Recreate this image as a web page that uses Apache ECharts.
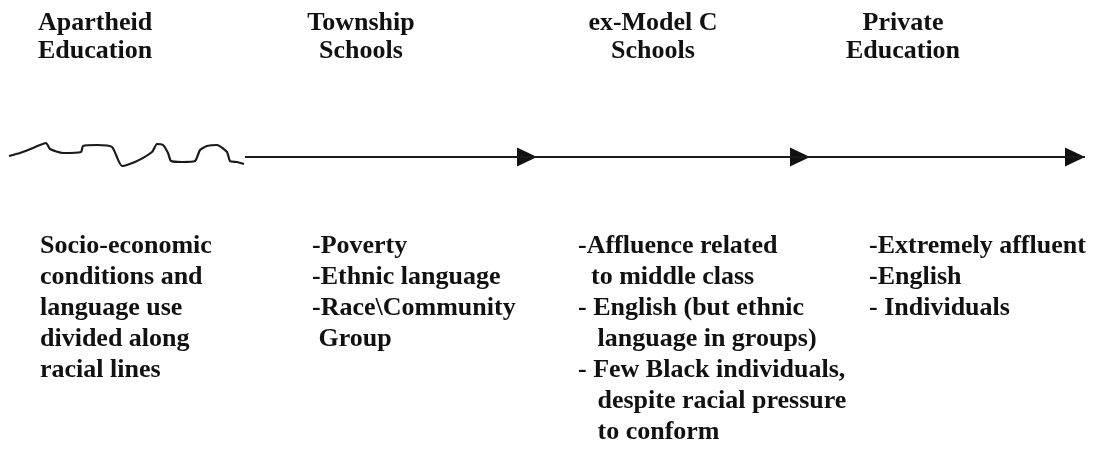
<!DOCTYPE html>
<html>
<head>
<meta charset="utf-8">
<script src="https://cdn.jsdelivr.net/npm/echarts@6/dist/echarts.min.js"></script>
<style>
  html, body { margin: 0; padding: 0; background: #fff; }
  #main { width: 1099px; height: 450px; }
</style>
</head>
<body>
<div id="main"></div>
<script>
// stages along the timeline
var stageTitles = [
  'Apartheid\nEducation',
  'Township\nSchools',
  'ex-Model C\nSchools',
  'Private\nEducation'
];
var stageNotes = [
  ['Socio-economic', 'conditions and', 'language use', 'divided along', 'racial lines'],
  ['-Poverty', '-Ethnic language', '-Race\\Community', ' Group'],
  ['-Affluence related', '  to middle class', '- English (but ethnic', '   language in groups)',
   '- Few Black individuals,', '   despite racial pressure', '   to conform'],
  ['-Extremely affluent', '-English', '- Individuals']
];
// where each title / note block sits on the page (x in page units)
var titleX = [38, 361, 653, 903];
var titleAlign = ['left', 'center', 'center', 'center'];
var noteX = [40, 312, 578, 869];

// the rough "apartheid" stretch of the line
var wavyLine = [
  [9, 156], [20, 153], [33, 148], [46, 143], [50, 149], [63, 153], [81, 152],
  [83, 146], [97, 145], [112, 147], [122, 166], [135, 162], [152, 152],
  [157, 144], [163, 145], [168, 153], [171, 161], [182, 162], [195, 161],
  [200, 150], [207, 146], [217, 145], [227, 152], [230, 161], [237, 162], [244, 164]
];
var lineY = 157;
var timeline = [[245, lineY], [1085, lineY]];
var arrowTips = [537, 810, 1085];

var fontFamily = '"Liberation Serif", "Times New Roman", serif';

var chart = echarts.init(document.getElementById('main'), null, { renderer: 'canvas' });

var titleData = stageTitles.map(function (t, i) {
  return {
    value: [titleX[i], 9],
    label: { formatter: t, align: titleAlign[i] }
  };
});
var noteData = stageNotes.map(function (lines, i) {
  return {
    value: [noteX[i], 231],
    label: { formatter: lines.join('\n') }
  };
});

var textLabel = {
  show: true,
  position: 'inside',
  verticalAlign: 'top',
  color: '#111',
  fontFamily: fontFamily,
  fontWeight: 'bold',
  fontSize: 26
};

var option = {
  animation: false,
  backgroundColor: '#fff',
  grid: { left: 0, right: 0, top: 0, bottom: 0 },
  xAxis: { type: 'value', min: 0, max: 1099, show: false },
  yAxis: { type: 'value', min: 0, max: 450, inverse: true, show: false },
  series: [
    {
      // wavy part
      type: 'line',
      data: wavyLine,
      smooth: 0.2,
      symbol: 'none',
      lineStyle: { color: '#1a1a1a', width: 2.2 }
    },
    {
      // straight timeline
      type: 'line',
      data: timeline,
      symbol: 'none',
      lineStyle: { color: '#1a1a1a', width: 2 }
    },
    {
      // arrow heads
      type: 'scatter',
      data: arrowTips.map(function (x) { return [x - 10, lineY]; }),
      symbol: 'triangle',
      symbolRotate: -90,
      symbolSize: [19, 20],
      itemStyle: { color: '#111', opacity: 1 }
    },
    {
      type: 'scatter',
      data: titleData,
      symbolSize: 0,
      itemStyle: { opacity: 1 },
      label: Object.assign({}, textLabel, { lineHeight: 28 })
    },
    {
      type: 'scatter',
      data: noteData,
      symbolSize: 0,
      itemStyle: { opacity: 1 },
      label: Object.assign({}, textLabel, { align: 'left', lineHeight: 31 })
    }
  ]
};

chart.setOption(option);
</script>
</body>
</html>
